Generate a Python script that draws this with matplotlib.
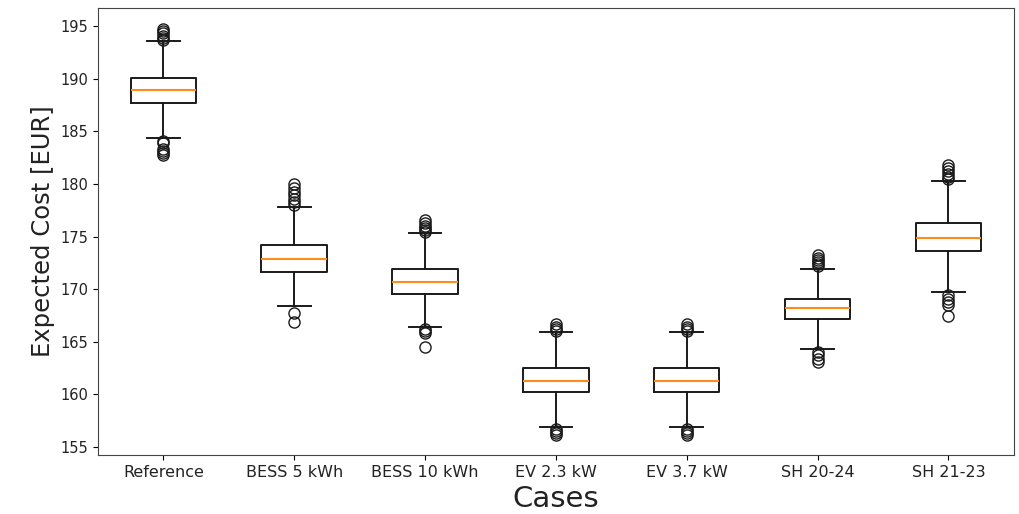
"""Box plot of expected cost per case."""

import matplotlib

matplotlib.use("Agg")
import matplotlib.pyplot as plt  # noqa: E402

cases = ["Reference", "BESS 5 kWh", "BESS 10 kWh", "EV 2.3 kW",
         "EV 3.7 kW", "SH 20-24", "SH 21-23"]

# box statistics [EUR]
medians = [188.9, 172.9, 170.7, 161.3, 161.3, 168.2, 174.9]
q1 = [187.7, 171.65, 169.5, 160.2, 160.2, 167.15, 173.65]
q3 = [190.1, 174.2, 171.9, 162.5, 162.5, 169.1, 176.25]
whisk_lo = [184.35, 168.4, 166.35, 156.9, 156.9, 164.3, 169.7]
whisk_hi = [193.55, 177.8, 175.3, 165.95, 165.95, 171.95, 180.3]
outliers = [
    [193.7, 193.9, 194.1, 194.3, 194.5, 194.7,
     184.1, 183.9, 183.3, 183.1, 182.9, 182.7],
    [178.0, 178.3, 178.6, 178.9, 179.2, 179.6, 180.0, 167.7, 166.9],
    [175.4, 175.6, 175.8, 176.0, 176.3, 176.6, 166.2, 166.0, 165.8, 164.5],
    [166.0, 166.2, 166.4, 166.65, 156.7, 156.5, 156.3, 156.15],
    [166.0, 166.2, 166.4, 166.65, 156.7, 156.5, 156.3, 156.15],
    [172.2, 172.4, 172.6, 172.8, 173.0, 173.25, 164.0, 163.7, 163.4, 163.1],
    [180.5, 180.7, 180.9, 181.2, 181.5, 181.8,
     169.4, 169.1, 168.8, 168.5, 167.4],
]

stats = [
    dict(label=c, med=m, q1=a, q3=b, whislo=lo, whishi=hi, fliers=f)
    for c, m, a, b, lo, hi, f in zip(cases, medians, q1, q3,
                                     whisk_lo, whisk_hi, outliers)
]

fig = plt.figure(figsize=(10.2, 5.14), dpi=100)
ax = fig.add_axes([0.096, 0.115, 0.898, 0.869])

ax.bxp(
    stats,
    widths=0.5,
    boxprops=dict(color="#1a1a1a", lw=1.4),
    whiskerprops=dict(color="#1a1a1a", lw=1.4),
    capprops=dict(color="#1a1a1a", lw=1.4),
    medianprops=dict(color="#ff8c1a", lw=1.5),
    flierprops=dict(marker="o", markerfacecolor="none",
                    markeredgecolor="#1a1a1a", markersize=8, mew=1.0),
)

ax.set_ylim(154.24, 196.7)
ax.set_yticks(range(155, 196, 5))
ax.tick_params(axis="y", labelsize=10.5, labelcolor="#222222")
ax.tick_params(axis="x", labelsize=11.5, labelcolor="#222222")
for sp in ax.spines.values():
    sp.set_color("#444444")

ax.set_ylabel("Expected Cost [EUR]", fontsize=17.5, color="#222222")
ax.set_xlabel("Cases", fontsize=21, labelpad=4, color="#222222")

fig.savefig("out.png", dpi=100)
